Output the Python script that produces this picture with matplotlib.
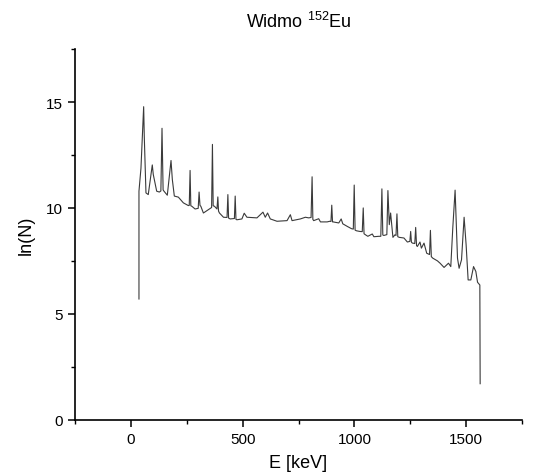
import matplotlib
matplotlib.use('Agg')
import matplotlib.pyplot as plt
from matplotlib.ticker import MultipleLocator

plt.rcParams['font.family'] = 'Liberation Sans'
plt.rcParams['mathtext.fontset'] = 'custom'
plt.rcParams['mathtext.rm'] = 'Liberation Sans'

# spectrum: energy [keV] and ln(counts)
energy = [36, 36, 44.9, 57.0, 59.7, 67.3, 77.6, 95.6, 100.0, 115.3,
          127.0, 134.0, 139.1, 144.0, 148.0, 162.8, 179.4, 185.3, 194.2, 212.2,
          234.6, 257.0, 261.0, 264.7, 268.0, 272.3, 287.1, 301.0, 305.0, 309.0,
          312.7, 324.3, 339.6, 357.5, 361.0, 364.7, 368.0, 373.7, 385.0, 388.9,
          392.0, 396.1, 414.1, 430.0, 433.8, 437.0, 444.1, 463.0, 466.5, 470.0,
          474.2, 496.6, 506.9, 519.0, 563.9, 590.8, 601.1, 611.4, 623.6, 653.6,
          698.5, 713.3, 720.9, 758.1, 780.6, 795.4, 806.0, 810.6, 814.0, 817.8,
          840.2, 847.9, 877.9, 889.6, 895.0, 898.6, 902.0, 904.8, 930.0, 940.7,
          947.9, 967.6, 986.9, 995.0, 999.0, 1003.0, 1009.4, 1024.2, 1035.0, 1039.4,
          1043.0, 1049.7, 1060.0, 1079.8, 1087.0, 1109.4, 1118.0, 1122.9, 1127.0, 1131.8,
          1140.8, 1145.0, 1149.8, 1156.0, 1161.9, 1172.2, 1181.2, 1186.0, 1190.2, 1194.0,
          1200.9, 1221.5, 1236.8, 1248.0, 1251.6, 1255.0, 1259.2, 1270.0, 1274.0, 1278.0,
          1281.6, 1293.3, 1299.6, 1311.3, 1323.4, 1336.0, 1340.0, 1344.0, 1350.3, 1371.4,
          1383.1, 1401.0, 1420.8, 1431.1, 1440.0, 1450.4, 1461.1, 1468.3, 1479.1, 1490.7,
          1499.7, 1508.7, 1520.8, 1532.9, 1543.2, 1550.8, 1561.1, 1562.5]
ln_n = [5.70, 10.79, 11.87, 14.78, 13.40, 10.71, 10.63, 12.03, 11.58, 10.79,
        10.75, 10.80, 13.76, 10.85, 10.79, 10.60, 12.24, 11.34, 10.56, 10.51,
        10.24, 10.11, 10.12, 11.77, 10.10, 10.08, 9.95, 9.98, 10.75, 10.12,
        10.08, 9.76, 9.87, 10.00, 10.02, 13.00, 10.10, 10.08, 9.95, 10.52,
        9.85, 9.76, 9.56, 9.55, 10.63, 9.52, 9.48, 9.50, 10.56, 9.46,
        9.44, 9.48, 9.75, 9.56, 9.53, 9.80, 9.56, 9.76, 9.48, 9.37,
        9.40, 9.68, 9.40, 9.48, 9.56, 9.53, 9.55, 11.47, 9.46, 9.40,
        9.49, 9.34, 9.34, 9.37, 9.36, 10.13, 9.34, 9.34, 9.29, 9.48,
        9.25, 9.13, 9.02, 9.00, 11.08, 8.95, 8.92, 8.89, 8.88, 10.00,
        8.78, 8.73, 8.66, 8.77, 8.64, 8.66, 8.66, 10.90, 8.72, 8.70,
        8.73, 8.74, 10.82, 9.21, 9.76, 8.61, 8.73, 8.70, 9.72, 8.64,
        8.61, 8.58, 8.39, 8.42, 8.89, 8.38, 8.34, 8.32, 9.08, 8.22,
        8.18, 8.39, 8.10, 8.34, 7.86, 7.80, 8.94, 7.70, 7.63, 7.50,
        7.39, 7.19, 7.39, 7.23, 9.05, 10.84, 7.63, 7.15, 7.55, 9.56,
        8.26, 6.60, 6.60, 7.23, 7.00, 6.49, 6.36, 1.70]

fig = plt.figure(figsize=(5.36, 4.77), dpi=100)
ax = fig.add_axes([0.14, 0.118, 0.834, 0.777])

ax.plot(energy, ln_n, color='#3a3a3a', linewidth=0.8)

ax.set_xlim(-250, 1750)
ax.set_ylim(0, 17.5)
ax.xaxis.set_major_locator(MultipleLocator(500))
ax.xaxis.set_minor_locator(MultipleLocator(250))
ax.yaxis.set_major_locator(MultipleLocator(5))
ax.yaxis.set_minor_locator(MultipleLocator(2.5))

for side in ['top', 'right']:
    ax.spines[side].set_visible(False)
for side in ['left', 'bottom']:
    ax.spines[side].set_linewidth(1.2)

ax.tick_params(which='major', direction='out', length=5, width=1.1, labelsize=11)
ax.tick_params(which='minor', direction='out', length=3, width=1.0)

ax.set_xlabel('E [keV]', fontsize=13, labelpad=6)
ax.set_ylabel('ln(N)', fontsize=13, labelpad=8)
ax.set_title(r'Widmo $^{152}$Eu', fontsize=13, pad=16)

fig.savefig('out.png', dpi=100)
